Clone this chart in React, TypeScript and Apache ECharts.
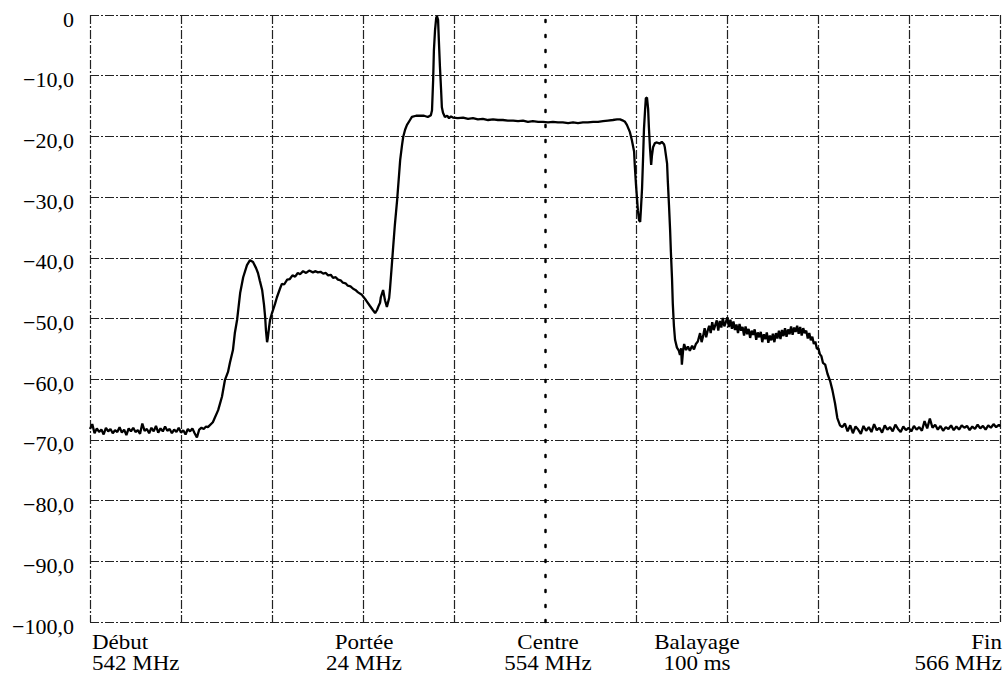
import React, { useEffect, useRef } from "react";
import * as echarts from "echarts";

// Sweep settings (MHz)
const START_MHZ = 542;
const STOP_MHZ = 566;
const CENTRE_MHZ = 554;
const DIVISION_MHZ = 2.4;

// Level axis (dB)
const LEVEL_MIN = -100;
const LEVEL_MAX = 0;
const LEVEL_STEP = 10;

// Trace: [frequency MHz, level dB]
const floorLeft: [number, number][] = [
  [542.00,-68.2],[542.06,-67.4],[542.12,-68.9],[542.18,-68.1],[542.24,-68.7],[542.30,-68.3],[542.36,-69.1],[542.42,-68.0],
  [542.48,-68.6],[542.54,-68.2],[542.60,-68.9],[542.66,-68.4],[542.72,-68.7],[542.78,-67.9],[542.84,-68.8],[542.90,-68.3],
  [542.96,-69.2],[543.02,-68.1],[543.08,-68.6],[543.14,-68.0],[543.20,-68.7],[543.26,-68.4],[543.32,-69.0],[543.38,-67.3],
  [543.44,-68.5],[543.50,-68.2],[543.56,-68.9],[543.62,-68.0],[543.68,-68.6],[543.74,-67.7],[543.80,-68.8],[543.86,-68.1],
  [543.92,-68.6],[543.98,-67.8],[544.04,-68.5],[544.10,-68.2],[544.16,-68.9],[544.22,-68.3],[544.28,-68.7],[544.34,-68.0],
  [544.40,-68.8],[544.46,-68.4],[544.52,-69.1],[544.58,-68.2],[544.64,-68.6],[544.70,-68.1],[544.76,-68.9],[544.82,-69.6],
  [544.88,-68.3],[544.94,-68.0],[545.00,-68.2],[545.06,-67.8],
];

const leftLobe: [number, number][] = [
  [545.11,-67.9],[545.24,-67.1],[545.38,-65.1],[545.48,-62.9],[545.56,-60.1],[545.64,-58.8],[545.69,-57.3],[545.77,-55.2],
  [545.82,-52.4],[545.88,-50.2],[545.96,-45.8],[546.04,-43.2],[546.14,-41.2],[546.22,-40.4],[546.30,-40.7],[546.38,-41.7],
  [546.43,-42.5],[546.48,-43.8],[546.54,-45.3],[546.59,-47.8],[546.62,-49.8],[546.64,-51.9],[546.67,-53.9],[546.69,-53.2],
  [546.72,-51.6],[546.75,-50.2],[546.80,-49.1],[546.88,-47.6],[546.93,-46.5],[547.01,-45.1],[547.06,-44.3],[547.12,-44.4],
  [547.20,-43.6],[547.27,-43.5],[547.34,-42.9],[547.41,-43.1],[547.48,-42.5],[547.54,-42.7],[547.62,-42.2],[547.70,-42.5],
  [547.78,-42.1],[547.88,-42.4],[547.95,-42.2],[548.01,-42.4],[548.08,-42.3],[548.15,-42.6],[548.22,-42.5],[548.28,-42.9],
  [548.35,-42.8],[548.41,-43.3],[548.48,-43.2],[548.54,-43.6],[548.61,-43.7],[548.67,-44.1],[548.74,-44.2],[548.80,-44.6],
  [548.87,-44.7],[548.94,-45.1],[549.00,-45.3],[549.07,-45.7],[549.17,-46.1],[549.28,-47.0],[549.38,-47.9],[549.46,-48.6],
  [549.52,-49.1],[549.57,-48.6],[549.62,-47.8],[549.65,-47.4],[549.67,-46.5],[549.73,-45.3],[549.78,-47.0],[549.83,-48.1],
  [549.89,-46.6],[549.91,-45.3],[549.96,-41.2],[549.99,-38.7],[550.04,-34.6],[550.10,-30.5],[550.15,-26.4],[550.18,-23.9],
  [550.23,-21.4],[550.26,-20.1],[550.31,-18.9],[550.36,-18.1],[550.44,-17.3],[550.49,-16.8],
];

const mainChannel: [number, number][] = [
  [550.60,-16.6],[550.70,-16.6],[550.81,-16.6],[550.91,-16.8],[550.99,-16.5],[551.02,-15.7],[551.05,-10.7],[551.07,-5.8],
  [551.10,-2.5],[551.13,-0.5],[551.15,-0.2],[551.18,-0.8],[551.20,-4.1],[551.23,-8.6],[551.26,-12.4],[551.28,-15.2],
  [551.31,-16.1],[551.36,-16.8],[551.42,-16.6],[551.47,-17.0],[551.52,-16.7],[551.57,-16.9],[551.70,-17.0],[551.84,-16.9],
  [551.97,-17.1],[552.10,-17.0],[552.23,-17.2],[552.36,-17.1],[552.50,-17.3],[552.63,-17.2],[552.76,-17.3],[552.89,-17.3],
  [553.02,-17.4],[553.16,-17.4],[553.29,-17.5],[553.42,-17.4],[553.55,-17.6],[553.68,-17.5],[553.82,-17.6],[553.95,-17.6],
  [554.08,-17.7],[554.21,-17.6],[554.34,-17.7],[554.47,-17.7],[554.61,-17.8],[554.74,-17.7],[554.87,-17.8],[555.00,-17.7],
  [555.13,-17.7],[555.27,-17.6],[555.40,-17.6],[555.53,-17.5],[555.66,-17.4],[555.79,-17.3],[555.90,-17.2],[555.98,-17.2],
  [556.06,-17.4],
];

const upperEdge: [number, number][] = [
  [556.11,-17.6],[556.16,-18.1],[556.24,-19.3],[556.29,-20.6],[556.35,-22.5],[556.37,-25.0],[556.40,-28.0],[556.43,-30.5],
  [556.45,-32.2],[556.48,-33.8],[556.51,-34.1],[556.53,-32.0],[556.56,-28.5],[556.59,-22.9],[556.61,-18.8],[556.64,-15.6],
  [556.66,-13.7],[556.69,-13.6],[556.72,-15.5],[556.74,-18.5],[556.77,-22.0],[556.80,-24.7],[556.82,-23.2],[556.85,-21.8],
  [556.90,-21.1],[556.95,-21.0],[557.03,-21.2],[557.08,-20.9],[557.14,-21.3],[557.16,-21.8],[557.22,-24.5],[557.24,-27.5],
  [557.27,-31.3],[557.30,-35.5],[557.32,-39.0],[557.35,-43.4],[557.37,-47.5],[557.40,-51.2],[557.43,-53.5],[557.48,-54.8],
  [557.53,-55.3],[557.56,-56.0],[557.59,-54.9],[557.61,-57.6],[557.64,-55.4],[557.67,-54.2],[557.72,-55.2],[557.77,-54.6],
  [557.82,-55.3],[557.88,-54.5],[557.93,-55.1],[557.98,-54.2],[558.03,-53.8],
];

const rightLobe: [number, number][] = [
  [558.09,-52.4],[558.13,-53.9],[558.17,-52.9],[558.21,-51.6],[558.25,-53.1],[558.29,-52.0],[558.33,-51.2],[558.37,-52.4],
  [558.41,-50.6],[558.45,-51.9],[558.49,-51.1],[558.53,-50.3],[558.57,-52.0],[558.61,-50.4],[558.65,-51.5],[558.69,-49.9],
  [558.73,-51.3],[558.77,-50.6],[558.81,-49.8],[558.85,-51.4],[558.89,-50.2],[558.93,-51.7],[558.97,-50.5],[559.01,-51.9],
  [559.05,-51.0],[559.09,-52.4],[559.13,-50.9],[559.17,-52.0],[559.21,-51.4],[559.25,-52.8],[559.29,-51.3],[559.33,-52.6],
  [559.37,-51.7],[559.41,-53.2],[559.45,-52.0],[559.49,-52.7],[559.53,-51.8],[559.57,-53.5],[559.61,-52.3],[559.65,-53.1],
  [559.69,-52.2],[559.73,-53.9],[559.77,-52.6],[559.81,-53.4],[559.85,-52.3],[559.89,-54.0],[559.93,-52.8],[559.97,-53.6],
  [560.01,-52.5],[560.05,-53.9],[560.09,-52.4],[560.13,-53.3],[560.17,-52.0],[560.21,-53.4],[560.25,-51.9],[560.29,-52.9],
  [560.33,-51.6],[560.37,-53.0],[560.41,-51.8],[560.45,-52.6],[560.49,-51.3],[560.53,-52.7],[560.57,-51.5],[560.61,-52.2],
  [560.65,-51.2],[560.69,-52.5],[560.73,-51.4],[560.77,-52.8],[560.81,-51.6],[560.85,-52.4],[560.89,-52.0],[560.93,-53.3],
  [560.97,-52.4],[561.01,-53.6],[561.05,-53.0],[561.09,-54.2],[561.13,-53.8],[561.17,-55.0],[561.21,-54.9],[561.25,-55.9],
  [561.29,-56.2],[561.33,-57.3],[561.39,-57.6],[561.45,-59.1],[561.52,-60.3],[561.58,-61.8],[561.65,-64.0],[561.71,-66.4],
  [561.78,-67.6],
];

const floorRight: [number, number][] = [
  [561.84,-67.9],[561.91,-67.3],[561.98,-68.6],[562.05,-67.6],[562.12,-68.9],[562.19,-67.8],[562.26,-68.3],[562.33,-69.0],
  [562.40,-67.7],[562.47,-68.5],[562.54,-67.9],[562.61,-68.7],[562.68,-67.4],[562.75,-68.4],[562.82,-68.0],[562.89,-68.8],
  [562.96,-67.6],[563.03,-68.3],[563.10,-67.9],[563.17,-68.6],[563.24,-67.5],[563.31,-68.2],[563.38,-68.7],[563.45,-67.8],
  [563.52,-68.4],[563.59,-68.0],[563.66,-68.6],[563.73,-67.7],[563.80,-68.3],[563.87,-67.9],[563.94,-68.5],[564.01,-66.9],
  [564.08,-68.1],[564.15,-66.5],[564.22,-68.0],[564.29,-67.5],[564.36,-68.3],[564.43,-67.7],[564.50,-68.5],[564.57,-67.9],
  [564.64,-68.2],[564.71,-67.6],[564.78,-68.4],[564.85,-67.8],[564.92,-68.3],[564.99,-67.6],[565.06,-68.0],[565.13,-67.7],
  [565.20,-68.4],[565.27,-67.8],[565.34,-68.2],[565.41,-67.5],[565.48,-68.1],[565.55,-67.7],[565.62,-68.3],[565.69,-67.6],
  [565.76,-68.0],[565.83,-67.4],[565.90,-67.9],[565.97,-67.5],[566.00,-67.8],
];

// Footer annotation texts
const footerTitles = ["Début", "Portée", "Centre", "Balayage", "Fin"];
const footerValues = ["542 MHz", "24 MHz", "554 MHz", "100 ms", "566 MHz"];

const FONT = "'Liberation Serif', 'Times New Roman', serif";

function formatLevel(v: number): string {
  if (v === 0) return "0";
  return v.toFixed(1).replace(".", ",").replace("-", "\u2212");
}

export default function App() {
  const ref = useRef<HTMLDivElement>(null);

  useEffect(() => {
    if (!ref.current) return;
    const chart = echarts.init(ref.current, null, { renderer: "svg" });

    const trace = [...floorLeft, ...leftLobe, ...mainChannel, ...upperEdge, ...rightLobe, ...floorRight].map(
      ([f, db]) => [f - START_MHZ, db]
    );
    const span = STOP_MHZ - START_MHZ;
    const nDiv = Math.round(span / DIVISION_MHZ);
    const centreIndex = Math.round((CENTRE_MHZ - START_MHZ) / DIVISION_MHZ);
    const gridColor = "#222";
    const xLineColors = Array.from({ length: nDiv + 1 }, (_, i) =>
      i === centreIndex ? "rgba(0,0,0,0)" : gridColor
    );
    const gridDash = [9, 2, 2, 2];

    // footer layout (positions kept here, not in the data)
    const footerX = [92, 364, 548, 697, 1002];
    const footerAlign = ["left", "center", "center", "center", "right"];
    const textBase = {
      fontFamily: FONT,
      fontSize: 20,
      lineHeight: 20,
      fill: "#000",
      verticalAlign: "middle",
    };

    const graphics: any[] = [];
    footerTitles.forEach((t, i) => {
      graphics.push({
        type: "text",
        x: footerX[i],
        y: 643,
        scaleX: 1.15,
        style: { ...textBase, text: t, align: footerAlign[i] },
      });
      graphics.push({
        type: "text",
        x: footerX[i],
        y: 664,
        scaleX: 1.15,
        style: { ...textBase, text: footerValues[i], align: footerAlign[i] },
      });
    });

    chart.setOption({
      animation: false,
      backgroundColor: "#ffffff",
      grid: { left: 90, right: 5, top: 15, bottom: 59, containLabel: false },
      xAxis: {
        type: "value",
        min: 0,
        max: span,
        interval: DIVISION_MHZ,
        axisLine: { show: false },
        axisTick: { show: false },
        axisLabel: { show: false },
        splitLine: {
          show: true,
          lineStyle: { color: xLineColors, width: 1.2, type: gridDash },
        },
      },
      yAxis: {
        type: "value",
        min: LEVEL_MIN,
        max: LEVEL_MAX,
        interval: LEVEL_STEP,
        axisLine: { show: false },
        axisTick: { show: false },
        axisLabel: {
          show: true,
          formatter: formatLevel,
          fontFamily: FONT,
          fontSize: 22,
          color: "#000",
          margin: 16,
          verticalAlign: "top",
          lineHeight: 8,
        },
        splitLine: {
          show: true,
          lineStyle: { color: gridColor, width: 1.2, type: gridDash },
        },
      },
      series: [
        {
          type: "line",
          data: trace,
          showSymbol: false,
          symbol: "none",
          lineStyle: { color: "#000", width: 2.3 },
          z: 5,
          markLine: {
            silent: true,
            symbol: ["none", "none"],
            label: { show: false },
            lineStyle: { color: "#000", width: 2.5, type: [2, 13], cap: "round" },
            data: [{ xAxis: CENTRE_MHZ - START_MHZ }],
          },
        },
      ],
      graphic: graphics,
    });

    return () => chart.dispose();
  }, []);

  return (
    <div
      ref={ref}
      style={{ position: "fixed", left: 0, top: 0, width: 1005, height: 681, background: "#fff" }}
    />
  );
}
